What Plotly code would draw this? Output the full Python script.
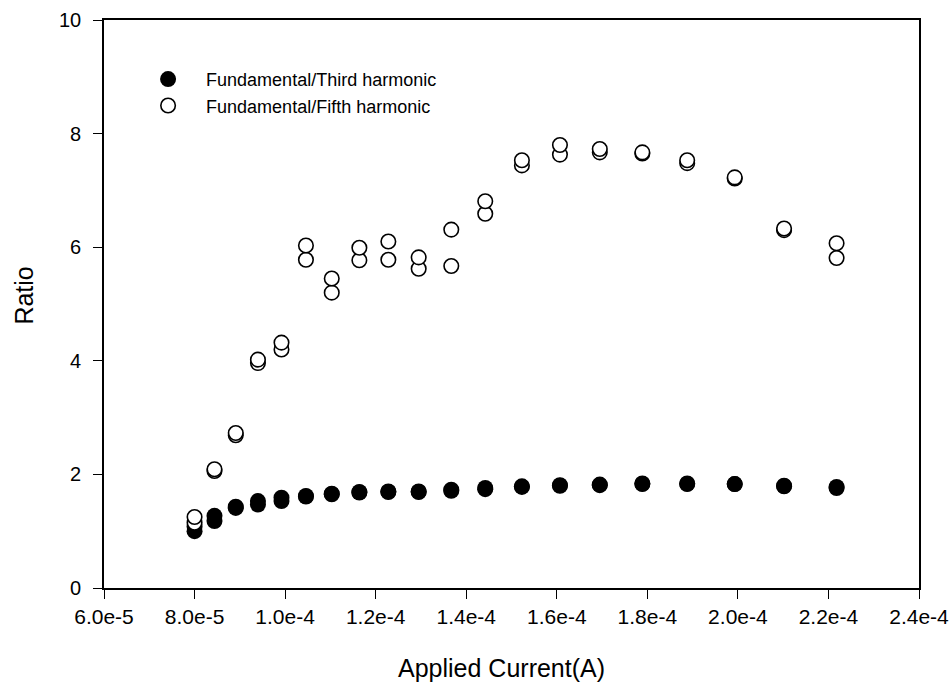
import plotly.graph_objects as go

# Applied current (A) for each measurement step (two readings per step)
current = [8.00e-5, 8.44e-5, 8.91e-5, 9.40e-5, 9.92e-5, 1.046e-4, 1.103e-4,
           1.164e-4, 1.228e-4, 1.295e-4, 1.367e-4, 1.442e-4, 1.523e-4,
           1.607e-4, 1.695e-4, 1.789e-4, 1.888e-4, 1.993e-4, 2.102e-4,
           2.218e-4]

# Fundamental / third harmonic ratio, run 1 and run 2
third_run1 = [1.00, 1.18, 1.41, 1.47, 1.53, 1.61, 1.65, 1.68, 1.69, 1.69,
              1.71, 1.74, 1.78, 1.80, 1.81, 1.83, 1.83, 1.83, 1.79, 1.76]
third_run2 = [1.08, 1.27, 1.43, 1.53, 1.59, 1.62, 1.66, 1.69, 1.70, 1.70,
              1.73, 1.76, 1.79, 1.81, 1.82, 1.84, 1.84, 1.83, 1.80, 1.78]

# Fundamental / fifth harmonic ratio, run 1 and run 2
fifth_run1 = [1.15, 2.06, 2.69, 3.96, 4.20, 5.78, 5.20, 5.77, 5.78, 5.62,
              5.67, 6.59, 7.44, 7.63, 7.67, 7.65, 7.48, 7.21, 6.30, 5.81]
fifth_run2 = [1.25, 2.09, 2.73, 4.02, 4.32, 6.03, 5.45, 5.99, 6.10, 5.82,
              6.31, 6.81, 7.53, 7.80, 7.73, 7.67, 7.53, 7.23, 6.33, 6.07]

x_ticks = [6.0e-5, 8.0e-5, 1.0e-4, 1.2e-4, 1.4e-4, 1.6e-4, 1.8e-4, 2.0e-4,
           2.2e-4, 2.4e-4]
x_tick_labels = ["6.0e-5", "8.0e-5", "1.0e-4", "1.2e-4", "1.4e-4",
                 "1.6e-4", "1.8e-4", "2.0e-4", "2.2e-4", "2.4e-4"]
y_ticks = [0, 2, 4, 6, 8, 10]

FONT = "Arial, 'Liberation Sans', Helvetica, sans-serif"

fig = go.Figure()

fig.add_trace(go.Scatter(
    x=current + current,
    y=third_run1 + third_run2,
    mode="markers",
    name="Fundamental/Third harmonic",
    marker=dict(symbol="circle", size=16, color="black",
                line=dict(color="black", width=0)),
))

fig.add_trace(go.Scatter(
    x=current + current,
    y=fifth_run1 + fifth_run2,
    mode="markers",
    name="Fundamental/Fifth harmonic",
    marker=dict(symbol="circle", size=14.5, color="white",
                line=dict(color="black", width=1.6)),
))

axis_common = dict(
    showline=True, linecolor="black", linewidth=1.6, mirror=True,
    ticks="outside", ticklen=9, tickwidth=1.4, tickcolor="black",
    showgrid=False, zeroline=False, automargin=False,
)

fig.update_xaxes(
    range=[6.0e-5, 2.4e-4],
    tickmode="array", tickvals=x_ticks, ticktext=x_tick_labels,
    tickfont=dict(family=FONT, size=21, color="black"),
    **axis_common,
)
fig.update_yaxes(
    range=[0, 10],
    tickmode="array", tickvals=y_ticks,
    tickfont=dict(family=FONT, size=20, color="black"),
    ticklabelstandoff=8,
    **axis_common,
)

fig.update_layout(
    width=951, height=684,
    margin=dict(l=104, r=32, t=20, b=96),
    paper_bgcolor="white", plot_bgcolor="white",
    font=dict(family=FONT, color="black"),
    legend=dict(
        x=0.032, y=0.928, xanchor="left", yanchor="top",
        bgcolor="rgba(0,0,0,0)", borderwidth=0,
        font=dict(family=FONT, size=18, color="black"),
        itemwidth=66, tracegroupgap=0,
    ),
    showlegend=True,
    annotations=[
        dict(text="Ratio", textangle=-90, showarrow=False,
             xref="paper", yref="paper", x=-0.098, y=0.515,
             xanchor="center", yanchor="middle",
             font=dict(family=FONT, size=25, color="black")),
        dict(text="Applied Current(A)", showarrow=False,
             xref="paper", yref="paper", x=0.488, y=-0.141,
             xanchor="center", yanchor="middle",
             font=dict(family=FONT, size=25, color="black")),
    ],
)

fig.write_html("out.html")
